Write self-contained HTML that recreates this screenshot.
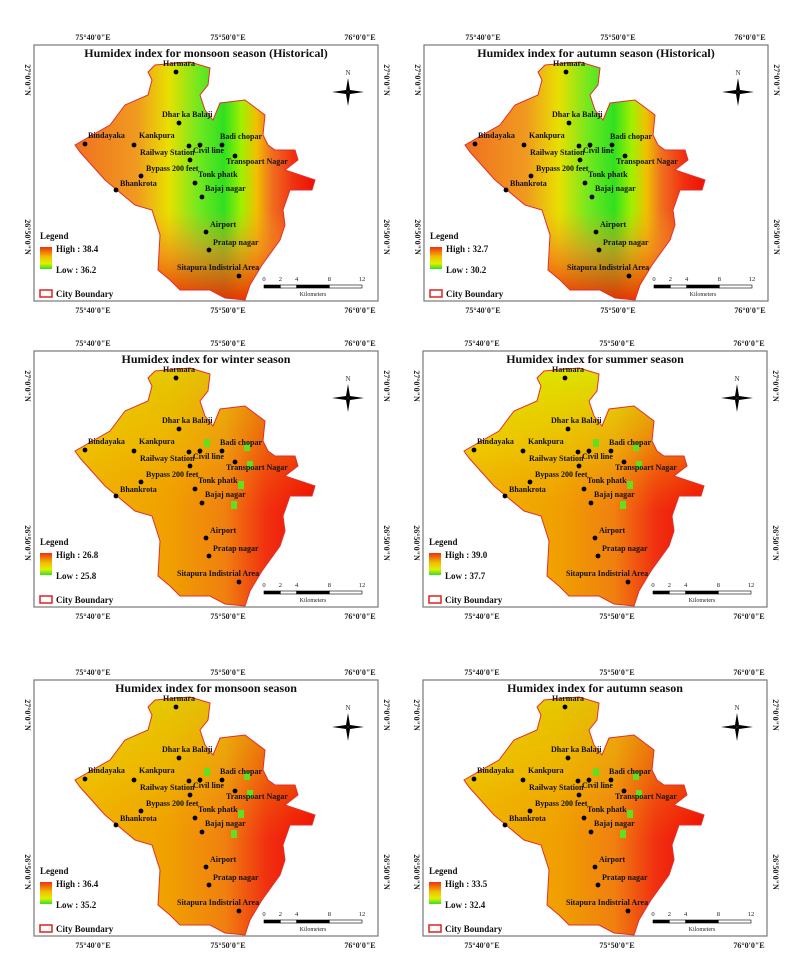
<!DOCTYPE html>
<html><head><meta charset="utf-8">
<style>
html,body{margin:0;padding:0;background:#fff;}
svg{display:block;font-family:"Liberation Serif",serif;}
</style></head>
<body>
<svg id="fig" width="801" height="973" viewBox="0 0 801 973">
<defs>
<linearGradient id="legGrad" x1="0" y1="0" x2="0" y2="1">
<stop offset="0" stop-color="#f03010"/><stop offset="0.45" stop-color="#f0c000"/><stop offset="0.75" stop-color="#e0f000"/><stop offset="1" stop-color="#30e020"/>
</linearGradient>
<linearGradient id="histGrad" gradientUnits="userSpaceOnUse" x1="40" y1="0" x2="290" y2="0">
<stop offset="0" stop-color="#f07020"/><stop offset="0.25" stop-color="#f09a20"/><stop offset="0.38" stop-color="#e8e000"/><stop offset="0.5" stop-color="#70e820"/><stop offset="0.6" stop-color="#30e020"/><stop offset="0.67" stop-color="#a0f000"/><stop offset="0.73" stop-color="#f0c000"/><stop offset="0.79" stop-color="#f07020"/><stop offset="0.88" stop-color="#f03010"/><stop offset="1" stop-color="#f00000"/>
</linearGradient>
<linearGradient id="histBottom" gradientUnits="userSpaceOnUse" x1="0" y1="165" x2="0" y2="255">
<stop offset="0" stop-color="#f0a020" stop-opacity="0"/><stop offset="0.45" stop-color="#f08020" stop-opacity="0.6"/><stop offset="1" stop-color="#f02000" stop-opacity="0.9"/>
</linearGradient>
<linearGradient id="curGrad" x1="0" y1="0" x2="1" y2="0">
<stop offset="0" stop-color="#f0b800"/><stop offset="0.4" stop-color="#f0a000"/><stop offset="0.62" stop-color="#f08010"/><stop offset="0.78" stop-color="#f03010"/><stop offset="1" stop-color="#f00000"/>
</linearGradient>
<linearGradient id="curTop" x1="0" y1="0" x2="0" y2="1">
<stop offset="0" stop-color="#d8f000" stop-opacity="0.9"/><stop offset="0.35" stop-color="#e8e800" stop-opacity="0.4"/><stop offset="0.6" stop-color="#f0b000" stop-opacity="0"/>
</linearGradient>
</defs>
</svg>
<script>
const titles = ["Humidex index for monsoon season (Historical)","Humidex index for autumn season (Historical)","Humidex index for winter season","Humidex index for summer season","Humidex index for monsoon season","Humidex index for autumn season"];
const highs = ["38.4","32.7","26.8","39.0","36.4","33.5"];
const lows = ["36.2","30.2","25.8","37.7","35.2","32.4"];
const historical = [true,true,false,false,false,false];
const cityNames = ["Harmara","Dhar ka Balaji","Bindayaka","Kankpura","Badi chopar","Railway Station","Civil line","Transpoart Nagar","Bypass 200 feet","Tonk phatk","Bhankrota","Bajaj nagar","Airport","Pratap nagar","Sitapura Indistrial Area"];
const cityX = [142,145,51,100,188,156,166,201,107,161,82,168,172,175,205];
const cityY = [27,78,99,100,100,115,100,111,131,138,145,152,187,205,231];
const labelX = [129,128,54,105,186,106,159,192,112,164,86,171,176,179,143];
const labelY = [21,72,93,93,94,110,108,119,126,132,141,146,182,200,225];
const extraDotX = [155];
const extraDotY = [101];
const scaleTicks = ["0","2","4","8","12"];
const scaleKm = [0,2,4,8,12];
const lonLabels = ["75°40'0\"E","75°50'0\"E","76°0'0\"E"];
const latLabels = ["27°0'0\"N","26°50'0\"N"];

const offX = [34,424,34,423,34,423];
const offY = [45,45,351,351,680,680];
const W = 344, H = 256;
const boundary = "114,27 121,20 156,17 176,23 174,40 166,50 171,65 179,75 186,58 211,55 231,70 229,90 234,100 241,105 261,105 264,115 251,125 281,135 278,145 256,145 249,165 251,180 246,195 228,220 216,240 211,255 191,253 176,245 146,245 136,235 124,225 126,190 118,165 101,160 83,145 71,135 46,107 41,100 76,80 91,60 114,50 118,35";
const NS = "http://www.w3.org/2000/svg";
const svg = document.getElementById('fig');
const defs = svg.querySelector('defs');
function mk(tag, attrs, parent){const e=document.createElementNS(NS,tag);for(const k in attrs)e.setAttribute(k,attrs[k]);if(parent)parent.appendChild(e);return e;}
const cp = mk('clipPath',{id:'cityClip'},defs);
mk('polygon',{points:boundary},cp);
const kmScale = x => 230 + x/12*98;

for(let p=0;p<6;p++){
  const g = mk('g',{transform:`translate(${offX[p]},${offY[p]})`},svg);
  
  
  const frame = mk('rect',{x:0,y:0,width:W,height:H,fill:'#fff',stroke:'#777','stroke-width':1.2},g);
  
  
  const hm = mk('g',{'clip-path':'url(#cityClip)'},g);
  
  
  if(historical[p]){
    mk('rect',{x:30,y:10,width:260,height:250,fill:'url(#histGrad)'},hm);
    mk('rect',{x:30,y:10,width:260,height:250,fill:'url(#histBottom)'},hm);
  } else {
    mk('rect',{x:30,y:10,width:260,height:250,fill:'url(#curGrad)'},hm);
    mk('rect',{x:30,y:10,width:260,height:250,fill:'url(#curTop)',opacity:p===3?1:0.6},hm);
    [[210,92],[213,110],[204,130],[197,150],[170,88]].forEach(c=>mk('rect',{x:c[0],y:c[1],width:6,height:8,fill:'#60e020'},hm));
  }
  const bd = mk('polygon',{points:boundary,fill:'none',stroke:'#e03030','stroke-width':1},g);
  
  
  const t = mk('text',{x:172,y:12,'text-anchor':'middle','font-size':12,'font-weight':'bold',fill:'#111'},g);
  t.textContent = titles[p];
  
  
  for(let i=0;i<cityNames.length;i++){
    const d = mk('circle',{cx:cityX[i],cy:cityY[i],r:2.4,fill:'#000'},g);
    
    
    const l = mk('text',{x:labelX[i],y:labelY[i],'font-size':8,'font-weight':'bold',fill:'#111'},g);
    l.textContent = cityNames[i];
    
    
  }
  for(let i=0;i<extraDotX.length;i++){
    const d = mk('circle',{cx:extraDotX[i],cy:extraDotY[i],r:2.4,fill:'#000'},g);
    
    
  }
  const lx=[59,194,326];
  for(let i=0;i<3;i++){
    const a = mk('text',{x:lx[i],y:-5,'text-anchor':'middle','font-size':8,'font-weight':'bold',fill:'#222'},g);
    a.textContent = lonLabels[i];
    
    
    const b = mk('text',{x:lx[i],y:H+12,'text-anchor':'middle','font-size':8,'font-weight':'bold',fill:'#222'},g);
    b.textContent = lonLabels[i];
    
    
  }
  const ly=[35,192];
  for(let i=0;i<2;i++){
    const a = mk('text',{x:0,y:0,'text-anchor':'middle','font-size':8,'font-weight':'bold',fill:'#222',transform:`translate(-9,${ly[i]}) rotate(90)`},g);
    a.textContent = latLabels[i];
    
    
    const b = mk('text',{x:0,y:0,'text-anchor':'middle','font-size':8,'font-weight':'bold',fill:'#222',transform:`translate(350,${ly[i]}) rotate(90)`},g);
    b.textContent = latLabels[i];
    
    
  }
  const na = mk('g',{transform:'translate(314,47)'},g);
  
  
  mk('polygon',{points:'0,-14 2,-2 0,0 -2,-2',fill:'#000'},na);
  mk('polygon',{points:'0,14 2,2 0,0 -2,2',fill:'#000'},na);
  mk('polygon',{points:'-16,0 -2,-2 0,0 -2,2',fill:'#000'},na);
  mk('polygon',{points:'16,0 2,-2 0,0 2,2',fill:'#000'},na);
  const nt = mk('text',{x:0,y:-17,'text-anchor':'middle','font-size':7,fill:'#333'},na);
  nt.textContent='N';
  const lg = mk('g',{},g);
  
  
  const lt = mk('text',{x:6,y:194,'font-size':9,'font-weight':'bold',fill:'#111'},lg);
  lt.textContent='Legend';
  mk('rect',{x:6,y:202,width:12,height:22,fill:'url(#legGrad)'},lg);
  const hi = mk('text',{x:22,y:207,'font-size':9,'font-weight':'bold',fill:'#111'},lg);
  hi.textContent='High : '+highs[p];
  
  
  const lo = mk('text',{x:22,y:228,'font-size':9,'font-weight':'bold',fill:'#111'},lg);
  lo.textContent='Low : '+lows[p];
  
  
  mk('rect',{x:6,y:245,width:12,height:7,fill:'#fff',stroke:'#e02020','stroke-width':1.5},lg);
  const cb = mk('text',{x:22,y:252,'font-size':9,'font-weight':'bold',fill:'#111'},lg);
  cb.textContent='City Boundary';
  
  
  const sb = mk('g',{},g);
  
  
  for(let i=0;i<scaleKm.length-1;i++){
    mk('rect',{x:kmScale(scaleKm[i]),y:240,width:kmScale(scaleKm[i+1])-kmScale(scaleKm[i]),height:3,fill:i%2===0?'#000':'#fff',stroke:'#000','stroke-width':0.6},sb);
  }
  for(let i=0;i<scaleKm.length;i++){
    const s = mk('text',{x:kmScale(scaleKm[i]),y:236,'text-anchor':'middle','font-size':6.5,fill:'#222'},sb);
    s.textContent = scaleTicks[i];
  }
  const km = mk('text',{x:279,y:251,'text-anchor':'middle','font-size':6,fill:'#222'},sb);
  km.textContent='Kilometers';
}
</script>
</body></html>
